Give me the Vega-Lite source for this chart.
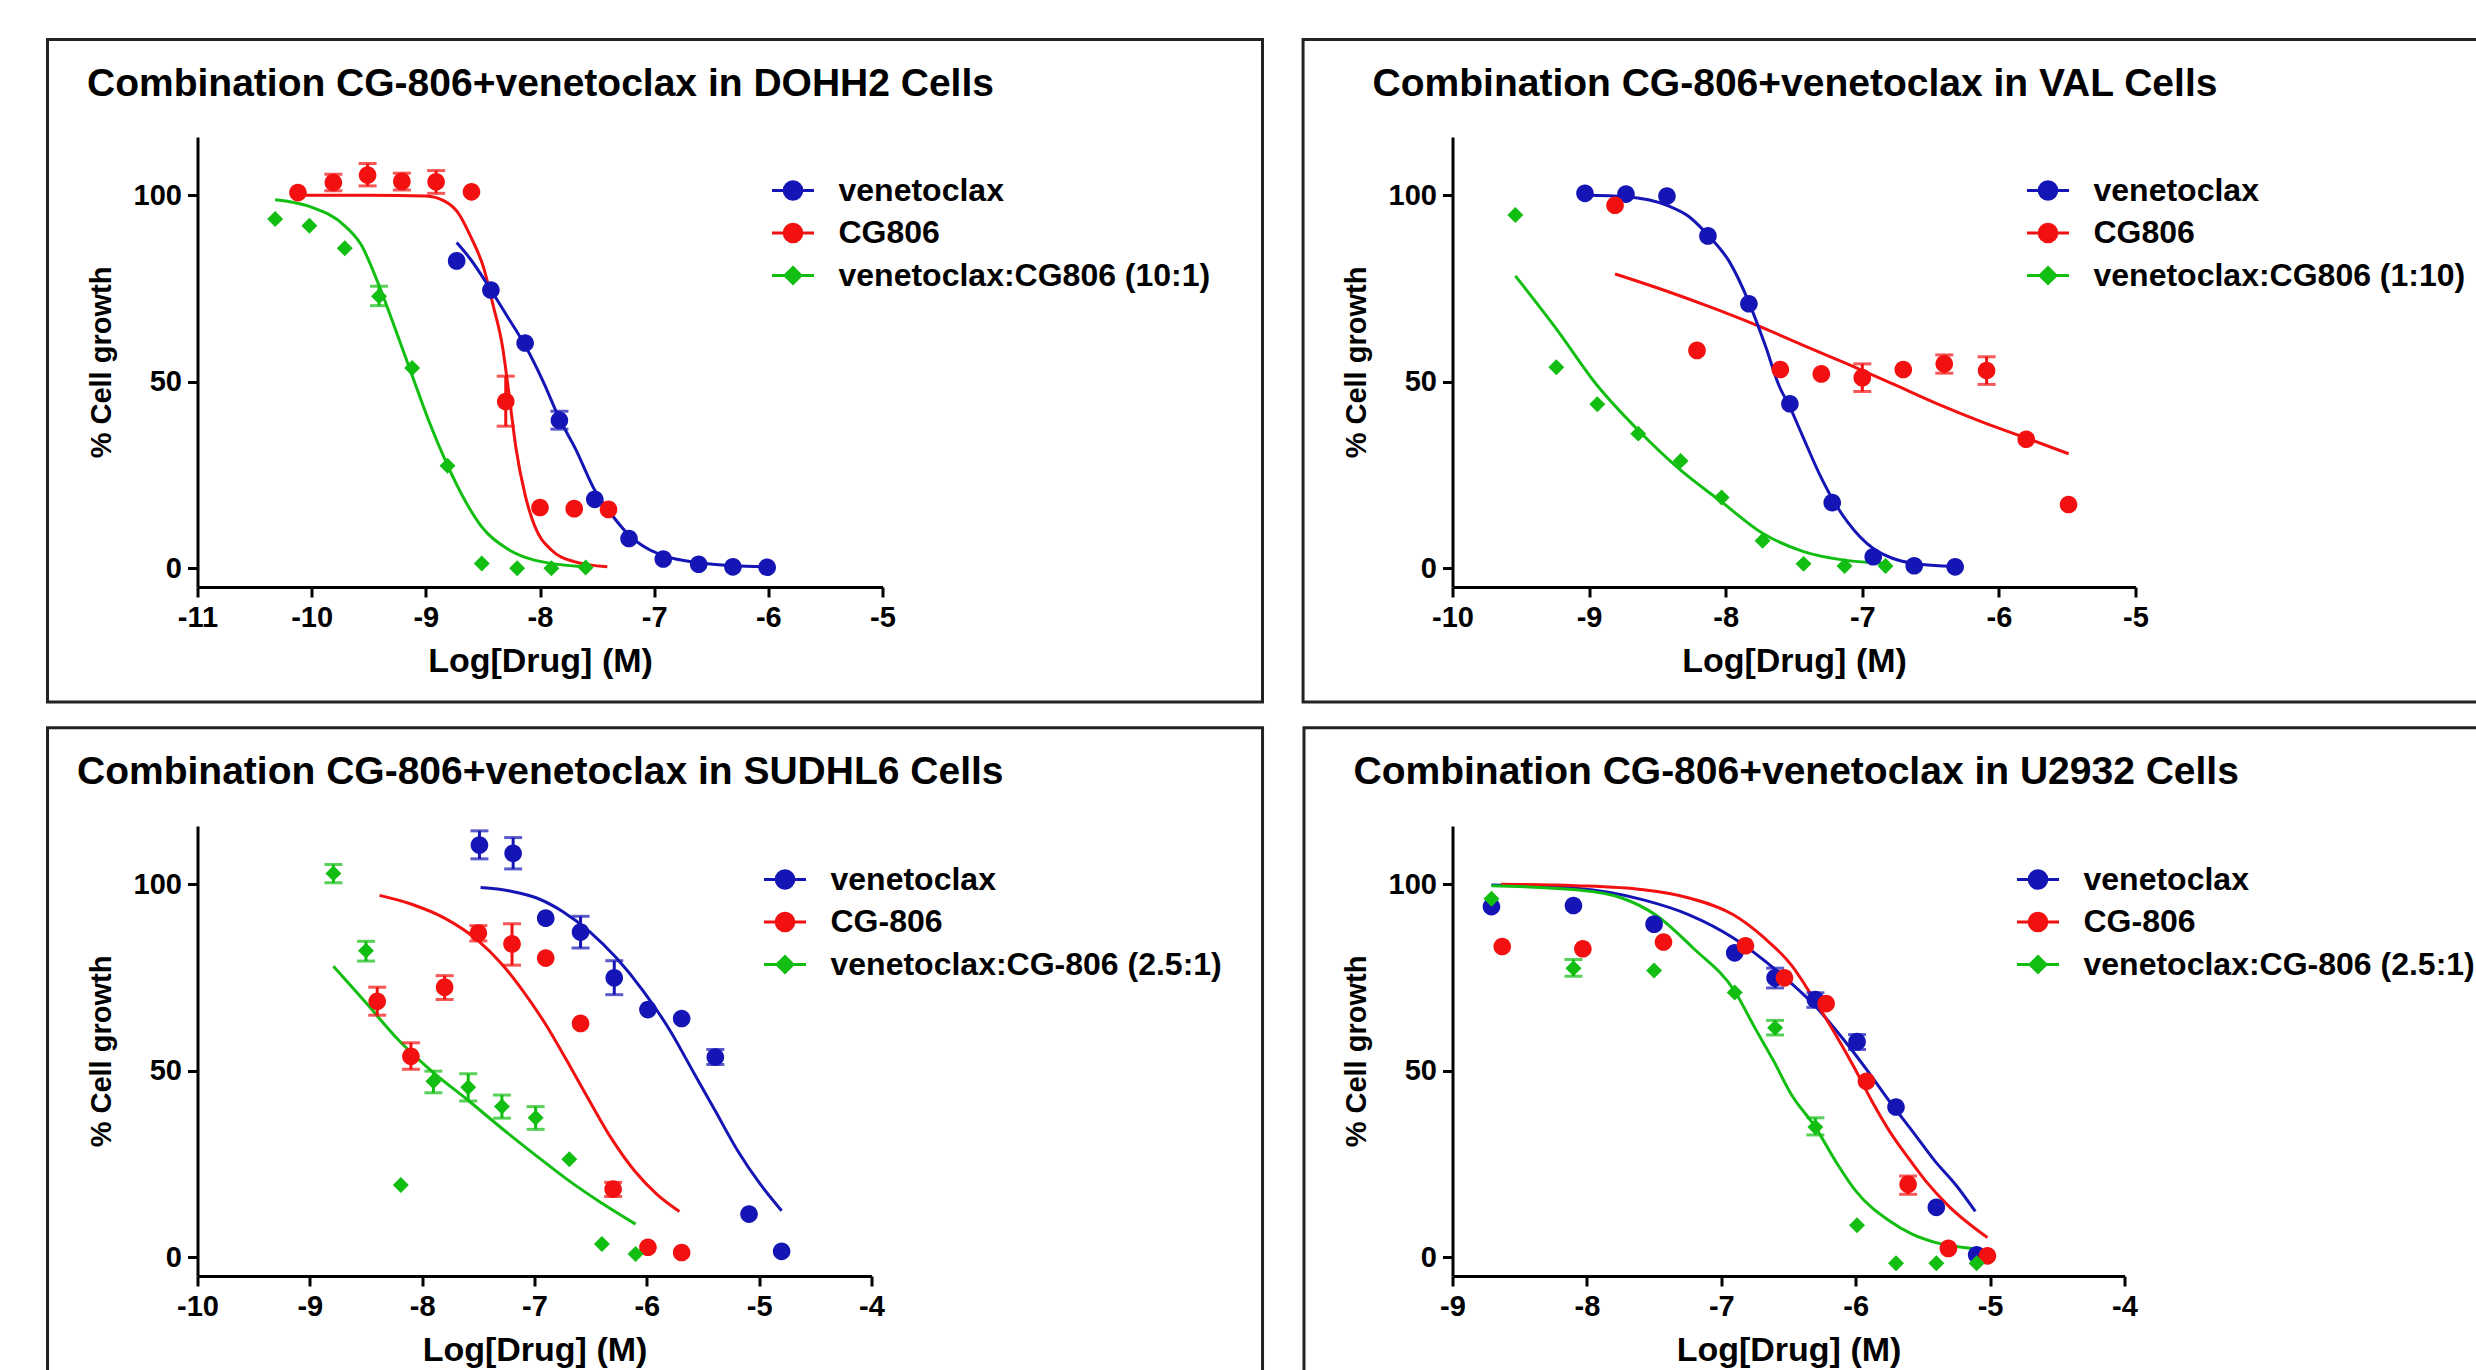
{
  "$schema": "https://vega.github.io/schema/vega-lite/v6.json",
  "background": "white",
  "padding": {"left": 45.5, "top": 38, "right": 0, "bottom": 0},
  "config": {
    "font": "Liberation Sans",
    "view": {"stroke": null},
    "axis": {"domainColor": "#000", "domainWidth": 3, "tickColor": "#000", "tickWidth": 3, "tickSize": 10, "labelFont": "Liberation Sans", "labelFontSize": 29, "labelFontWeight": "bold", "labelColor": "#000", "titleFont": "Liberation Sans", "titleFontWeight": "bold", "titleColor": "#000", "grid": false, "labelPadding": 6, "titlePadding": 12, "labelOverlap": false},
    "axisX": {"titleFontSize": 34, "labelFlush": false},
    "axisY": {"titleFontSize": 29, "titlePadding": 17},
    "title": {"font": "Liberation Sans", "fontSize": 39, "fontWeight": "bold", "color": "#000", "anchor": "start", "baseline": "alphabetic", "offset": -66},
    "legend": {"orient": "none", "symbolSize": 1764, "symbolStrokeWidth": 3, "labelFontSize": 32, "labelFont": "Liberation Sans", "labelFontWeight": "bold", "labelColor": "#000", "labelOffset": 23, "rowPadding": 3.5, "padding": 0, "labelLimit": 800}
  },
  "resolve": {
    "scale": {"color": "independent", "fill": "independent", "stroke": "independent", "shape": "independent"},
    "legend": {"color": "independent", "fill": "independent", "stroke": "independent", "shape": "independent"}
  },
  "datasets": {
    "p1pts": [
      {"s":"venetoclax","x":-8.73,"y":82.4},{"s":"venetoclax","x":-8.43,"y":74.6},{"s":"venetoclax","x":-8.13,"y":60.4},{"s":"venetoclax","x":-7.83,"y":39.7,"lo":37.3,"hi":42.1},{"s":"venetoclax","x":-7.52,"y":18.5},{"s":"venetoclax","x":-7.22,"y":8.0},{"s":"venetoclax","x":-6.92,"y":2.5},{"s":"venetoclax","x":-6.61,"y":1.1},{"s":"venetoclax","x":-6.31,"y":0.4},{"s":"venetoclax","x":-6.01,"y":0.3},
      {"s":"CG806","x":-10.12,"y":100.7},{"s":"CG806","x":-9.81,"y":103.4,"lo":101.2,"hi":105.6},{"s":"CG806","x":-9.51,"y":105.4,"lo":102.5,"hi":108.5},{"s":"CG806","x":-9.21,"y":103.7,"lo":101.4,"hi":105.9},{"s":"CG806","x":-8.91,"y":103.6,"lo":100.5,"hi":106.6},{"s":"CG806","x":-8.60,"y":100.9},{"s":"CG806","x":-8.30,"y":44.7,"lo":38.1,"hi":51.5},{"s":"CG806","x":-8.00,"y":16.3},{"s":"CG806","x":-7.70,"y":16.0},{"s":"CG806","x":-7.40,"y":15.8},
      {"s":"venetoclax:CG806 (10:1)","x":-10.32,"y":93.6},{"s":"venetoclax:CG806 (10:1)","x":-10.02,"y":91.8},{"s":"venetoclax:CG806 (10:1)","x":-9.71,"y":85.8},{"s":"venetoclax:CG806 (10:1)","x":-9.41,"y":72.9,"lo":70.4,"hi":75.6},{"s":"venetoclax:CG806 (10:1)","x":-9.12,"y":53.7},{"s":"venetoclax:CG806 (10:1)","x":-8.81,"y":27.5},{"s":"venetoclax:CG806 (10:1)","x":-8.51,"y":1.3},{"s":"venetoclax:CG806 (10:1)","x":-8.20,"y":0.0},{"s":"venetoclax:CG806 (10:1)","x":-7.90,"y":0.0},{"s":"venetoclax:CG806 (10:1)","x":-7.60,"y":0.2}
    ],
    "p1fit": [
      {"s":"CG806","x":-10.12,"y":100},{"s":"CG806","x":-9.5,"y":100},{"s":"CG806","x":-9.0,"y":99.8},{"s":"CG806","x":-8.84,"y":98.5},{"s":"CG806","x":-8.72,"y":95.4},{"s":"CG806","x":-8.61,"y":89.1},{"s":"CG806","x":-8.49,"y":80.2},{"s":"CG806","x":-8.41,"y":70.4},{"s":"CG806","x":-8.33,"y":59.7},{"s":"CG806","x":-8.27,"y":46.3},{"s":"CG806","x":-8.21,"y":32.1},{"s":"CG806","x":-8.13,"y":19.6},{"s":"CG806","x":-8.05,"y":11.6},{"s":"CG806","x":-7.90,"y":4.9},{"s":"CG806","x":-7.70,"y":1.8},{"s":"CG806","x":-7.41,"y":0.4},
      {"s":"venetoclax","x":-8.73,"y":87.3},{"s":"venetoclax","x":-8.61,"y":82.9},{"s":"venetoclax","x":-8.43,"y":74.6},{"s":"venetoclax","x":-8.29,"y":67.7},{"s":"venetoclax","x":-8.13,"y":59.7},{"s":"venetoclax","x":-7.97,"y":49.9},{"s":"venetoclax","x":-7.83,"y":40.1},{"s":"venetoclax","x":-7.69,"y":32.1},{"s":"venetoclax","x":-7.52,"y":20.9},{"s":"venetoclax","x":-7.37,"y":14.3},{"s":"venetoclax","x":-7.22,"y":8.9},{"s":"venetoclax","x":-7.06,"y":5.3},{"s":"venetoclax","x":-6.92,"y":3.4},{"s":"venetoclax","x":-6.61,"y":1.5},{"s":"venetoclax","x":-6.31,"y":0.7},{"s":"venetoclax","x":-6.0,"y":0.4},
      {"s":"venetoclax:CG806 (10:1)","x":-10.32,"y":98.8},{"s":"venetoclax:CG806 (10:1)","x":-10.02,"y":97.0},{"s":"venetoclax:CG806 (10:1)","x":-9.71,"y":91.8},{"s":"venetoclax:CG806 (10:1)","x":-9.57,"y":86.9},{"s":"venetoclax:CG806 (10:1)","x":-9.41,"y":75.8},{"s":"venetoclax:CG806 (10:1)","x":-9.29,"y":66.0},{"s":"venetoclax:CG806 (10:1)","x":-9.12,"y":51.7},{"s":"venetoclax:CG806 (10:1)","x":-8.97,"y":39.2},{"s":"venetoclax:CG806 (10:1)","x":-8.81,"y":27.6},{"s":"venetoclax:CG806 (10:1)","x":-8.65,"y":17.8},{"s":"venetoclax:CG806 (10:1)","x":-8.51,"y":11.1},{"s":"venetoclax:CG806 (10:1)","x":-8.29,"y":5.3},{"s":"venetoclax:CG806 (10:1)","x":-8.05,"y":2.2},{"s":"venetoclax:CG806 (10:1)","x":-7.60,"y":0.4}
    ],
    "p2pts": [
      {"s":"venetoclax","x":-9.03,"y":100.5},{"s":"venetoclax","x":-8.73,"y":100.3},{"s":"venetoclax","x":-8.43,"y":99.8},{"s":"venetoclax","x":-8.13,"y":89.1},{"s":"venetoclax","x":-7.83,"y":70.9},{"s":"venetoclax","x":-7.53,"y":44.1},{"s":"venetoclax","x":-7.22,"y":17.6},{"s":"venetoclax","x":-6.92,"y":3.1},{"s":"venetoclax","x":-6.62,"y":0.7},{"s":"venetoclax","x":-6.32,"y":0.4},
      {"s":"CG806","x":-8.81,"y":97.3},{"s":"CG806","x":-8.21,"y":58.4},{"s":"CG806","x":-7.60,"y":53.3},{"s":"CG806","x":-7.30,"y":52.1},{"s":"CG806","x":-7.00,"y":51.1,"lo":47.4,"hi":54.8},{"s":"CG806","x":-6.70,"y":53.3},{"s":"CG806","x":-6.40,"y":54.8,"lo":52.3,"hi":57.2},{"s":"CG806","x":-6.09,"y":53.0,"lo":49.3,"hi":56.7},{"s":"CG806","x":-5.80,"y":34.6},{"s":"CG806","x":-5.49,"y":17.1},
      {"s":"venetoclax:CG806 (1:10)","x":-9.54,"y":94.7},{"s":"venetoclax:CG806 (1:10)","x":-9.24,"y":53.9},{"s":"venetoclax:CG806 (1:10)","x":-8.94,"y":44.0},{"s":"venetoclax:CG806 (1:10)","x":-8.64,"y":36.1},{"s":"venetoclax:CG806 (1:10)","x":-8.33,"y":28.8},{"s":"venetoclax:CG806 (1:10)","x":-8.03,"y":19.0},{"s":"venetoclax:CG806 (1:10)","x":-7.73,"y":7.4},{"s":"venetoclax:CG806 (1:10)","x":-7.43,"y":1.2},{"s":"venetoclax:CG806 (1:10)","x":-7.13,"y":0.6},{"s":"venetoclax:CG806 (1:10)","x":-6.83,"y":0.6}
    ],
    "p2fit": [
      {"s":"CG806","x":-8.81,"y":78.9},{"s":"CG806","x":-8.44,"y":74.4},{"s":"CG806","x":-8.11,"y":70.0},{"s":"CG806","x":-7.77,"y":65.1},{"s":"CG806","x":-7.44,"y":59.9},{"s":"CG806","x":-7.11,"y":54.8},{"s":"CG806","x":-6.78,"y":49.5},{"s":"CG806","x":-6.45,"y":44.1},{"s":"CG806","x":-6.12,"y":39.2},{"s":"CG806","x":-5.79,"y":34.8},{"s":"CG806","x":-5.49,"y":30.7},
      {"s":"venetoclax","x":-9.03,"y":100},{"s":"venetoclax","x":-8.73,"y":99.6},{"s":"venetoclax","x":-8.43,"y":97.3},{"s":"venetoclax","x":-8.27,"y":94.3},{"s":"venetoclax","x":-8.13,"y":89.3},{"s":"venetoclax","x":-7.97,"y":82.0},{"s":"venetoclax","x":-7.83,"y":71.3},{"s":"venetoclax","x":-7.71,"y":59.7},{"s":"venetoclax","x":-7.61,"y":49.0},{"s":"venetoclax","x":-7.53,"y":43.2},{"s":"venetoclax","x":-7.44,"y":35.7},{"s":"venetoclax","x":-7.31,"y":25.0},{"s":"venetoclax","x":-7.22,"y":18.7},{"s":"venetoclax","x":-7.11,"y":12.5},{"s":"venetoclax","x":-6.92,"y":5.3},{"s":"venetoclax","x":-6.78,"y":2.7},{"s":"venetoclax","x":-6.62,"y":1.3},{"s":"venetoclax","x":-6.32,"y":0.5},
      {"s":"venetoclax:CG806 (1:10)","x":-9.54,"y":78.4},{"s":"venetoclax:CG806 (1:10)","x":-9.24,"y":64.2},{"s":"venetoclax:CG806 (1:10)","x":-8.94,"y":49.0},{"s":"venetoclax:CG806 (1:10)","x":-8.64,"y":37.0},{"s":"venetoclax:CG806 (1:10)","x":-8.33,"y":26.3},{"s":"venetoclax:CG806 (1:10)","x":-8.03,"y":17.8},{"s":"venetoclax:CG806 (1:10)","x":-7.73,"y":9.4},{"s":"venetoclax:CG806 (1:10)","x":-7.43,"y":4.5},{"s":"venetoclax:CG806 (1:10)","x":-7.13,"y":2.2},{"s":"venetoclax:CG806 (1:10)","x":-6.83,"y":1.3}
    ],
    "p3pts": [
      {"s":"venetoclax","x":-7.49,"y":110.5,"lo":106.8,"hi":114.3},{"s":"venetoclax","x":-7.19,"y":108.3,"lo":104.1,"hi":112.5},{"s":"venetoclax","x":-6.90,"y":90.9},{"s":"venetoclax","x":-6.59,"y":87.2,"lo":82.9,"hi":91.4},{"s":"venetoclax","x":-6.29,"y":74.9,"lo":70.4,"hi":79.5},{"s":"venetoclax","x":-5.99,"y":66.4},{"s":"venetoclax","x":-5.69,"y":64.0},{"s":"venetoclax","x":-5.39,"y":53.7,"lo":51.7,"hi":55.7},{"s":"venetoclax","x":-5.09,"y":11.6},{"s":"venetoclax","x":-4.80,"y":1.6},
      {"s":"CG-806","x":-8.40,"y":68.6,"lo":64.9,"hi":72.4},{"s":"CG-806","x":-8.10,"y":53.9,"lo":50.4,"hi":57.5},{"s":"CG-806","x":-7.80,"y":72.4,"lo":69.1,"hi":75.5},{"s":"CG-806","x":-7.50,"y":86.9,"lo":84.8,"hi":88.9},{"s":"CG-806","x":-7.20,"y":84.0,"lo":78.3,"hi":89.4},{"s":"CG-806","x":-6.90,"y":80.2},{"s":"CG-806","x":-6.59,"y":62.7},{"s":"CG-806","x":-6.30,"y":18.3,"lo":16.3,"hi":20.1},{"s":"CG-806","x":-5.99,"y":2.7},{"s":"CG-806","x":-5.69,"y":1.3},
      {"s":"venetoclax:CG-806 (2.5:1)","x":-8.79,"y":102.9,"lo":100.4,"hi":105.3},{"s":"venetoclax:CG-806 (2.5:1)","x":-8.50,"y":82.2,"lo":79.4,"hi":84.7},{"s":"venetoclax:CG-806 (2.5:1)","x":-8.19,"y":19.4},{"s":"venetoclax:CG-806 (2.5:1)","x":-7.90,"y":47.2,"lo":44.1,"hi":49.9},{"s":"venetoclax:CG-806 (2.5:1)","x":-7.59,"y":45.6,"lo":41.9,"hi":49.2},{"s":"venetoclax:CG-806 (2.5:1)","x":-7.29,"y":40.4,"lo":37.3,"hi":43.5},{"s":"venetoclax:CG-806 (2.5:1)","x":-6.99,"y":37.4,"lo":34.3,"hi":40.4},{"s":"venetoclax:CG-806 (2.5:1)","x":-6.69,"y":26.3},{"s":"venetoclax:CG-806 (2.5:1)","x":-6.40,"y":3.6},{"s":"venetoclax:CG-806 (2.5:1)","x":-6.10,"y":0.9}
    ],
    "p3fit": [
      {"s":"venetoclax","x":-7.48,"y":99.1},{"s":"venetoclax","x":-7.22,"y":98.2},{"s":"venetoclax","x":-6.98,"y":96.3},{"s":"venetoclax","x":-6.75,"y":92.7},{"s":"venetoclax","x":-6.51,"y":87.3},{"s":"venetoclax","x":-6.27,"y":80.2},{"s":"venetoclax","x":-6.03,"y":71.3},{"s":"venetoclax","x":-5.79,"y":60.6},{"s":"venetoclax","x":-5.59,"y":49.9},{"s":"venetoclax","x":-5.39,"y":39.2},{"s":"venetoclax","x":-5.19,"y":28.5},{"s":"venetoclax","x":-4.99,"y":19.6},{"s":"venetoclax","x":-4.80,"y":12.5},
      {"s":"CG-806","x":-8.38,"y":97.0},{"s":"CG-806","x":-8.10,"y":94.7},{"s":"CG-806","x":-7.80,"y":90.9},{"s":"CG-806","x":-7.50,"y":84.8},{"s":"CG-806","x":-7.30,"y":78.9},{"s":"CG-806","x":-7.10,"y":71.3},{"s":"CG-806","x":-6.90,"y":62.4},{"s":"CG-806","x":-6.71,"y":52.6},{"s":"CG-806","x":-6.51,"y":41.9},{"s":"CG-806","x":-6.31,"y":31.6},{"s":"CG-806","x":-6.11,"y":23.2},{"s":"CG-806","x":-5.91,"y":16.9},{"s":"CG-806","x":-5.71,"y":12.3},
      {"s":"venetoclax:CG-806 (2.5:1)","x":-8.79,"y":78.0},{"s":"venetoclax:CG-806 (2.5:1)","x":-8.50,"y":68.2},{"s":"venetoclax:CG-806 (2.5:1)","x":-8.20,"y":57.9},{"s":"venetoclax:CG-806 (2.5:1)","x":-7.90,"y":49.5},{"s":"venetoclax:CG-806 (2.5:1)","x":-7.60,"y":42.3},{"s":"venetoclax:CG-806 (2.5:1)","x":-7.30,"y":34.8},{"s":"venetoclax:CG-806 (2.5:1)","x":-7.00,"y":27.6},{"s":"venetoclax:CG-806 (2.5:1)","x":-6.71,"y":20.9},{"s":"venetoclax:CG-806 (2.5:1)","x":-6.41,"y":14.7},{"s":"venetoclax:CG-806 (2.5:1)","x":-6.10,"y":8.9}
    ],
    "p4pts": [
      {"s":"venetoclax","x":-8.71,"y":94.0},{"s":"venetoclax","x":-8.10,"y":94.3},{"s":"venetoclax","x":-7.50,"y":89.3},{"s":"venetoclax","x":-6.90,"y":81.6},{"s":"venetoclax","x":-6.60,"y":74.9,"lo":72.2,"hi":77.5},{"s":"venetoclax","x":-6.30,"y":69.1,"lo":67.0,"hi":70.9},{"s":"venetoclax","x":-5.99,"y":57.8,"lo":55.7,"hi":59.7},{"s":"venetoclax","x":-5.70,"y":40.3},{"s":"venetoclax","x":-5.40,"y":13.4},{"s":"venetoclax","x":-5.10,"y":0.7},
      {"s":"CG-806","x":-8.63,"y":83.3},{"s":"CG-806","x":-8.03,"y":82.7},{"s":"CG-806","x":-7.43,"y":84.5},{"s":"CG-806","x":-6.82,"y":83.5},{"s":"CG-806","x":-6.53,"y":74.9},{"s":"CG-806","x":-6.22,"y":68.0},{"s":"CG-806","x":-5.92,"y":47.2},{"s":"CG-806","x":-5.61,"y":19.6,"lo":16.9,"hi":21.8},{"s":"CG-806","x":-5.31,"y":2.4},{"s":"CG-806","x":-5.02,"y":0.4},
      {"s":"venetoclax:CG-806 (2.5:1)","x":-8.71,"y":96.1},{"s":"venetoclax:CG-806 (2.5:1)","x":-8.10,"y":77.5,"lo":75.3,"hi":79.8},{"s":"venetoclax:CG-806 (2.5:1)","x":-7.50,"y":76.9},{"s":"venetoclax:CG-806 (2.5:1)","x":-6.90,"y":71.0},{"s":"venetoclax:CG-806 (2.5:1)","x":-6.60,"y":61.5,"lo":59.6,"hi":63.5},{"s":"venetoclax:CG-806 (2.5:1)","x":-6.30,"y":34.9,"lo":32.8,"hi":37.4},{"s":"venetoclax:CG-806 (2.5:1)","x":-5.99,"y":8.6},{"s":"venetoclax:CG-806 (2.5:1)","x":-5.70,"y":-1.6},{"s":"venetoclax:CG-806 (2.5:1)","x":-5.40,"y":-1.6},{"s":"venetoclax:CG-806 (2.5:1)","x":-5.10,"y":-1.6}
    ],
    "p4fit": [
      {"s":"venetoclax","x":-8.71,"y":99.8},{"s":"venetoclax","x":-8.08,"y":98.9},{"s":"venetoclax","x":-7.58,"y":95.8},{"s":"venetoclax","x":-7.24,"y":91.8},{"s":"venetoclax","x":-6.91,"y":85.6},{"s":"venetoclax","x":-6.58,"y":76.6},{"s":"venetoclax","x":-6.30,"y":67.3},{"s":"venetoclax","x":-6.08,"y":57.9},{"s":"venetoclax","x":-5.91,"y":49.9},{"s":"venetoclax","x":-5.75,"y":41.9},{"s":"venetoclax","x":-5.58,"y":33.9},{"s":"venetoclax","x":-5.41,"y":25.8},{"s":"venetoclax","x":-5.25,"y":19.2},{"s":"venetoclax","x":-5.11,"y":12.3},
      {"s":"CG-806","x":-8.64,"y":100},{"s":"CG-806","x":-8.08,"y":99.6},{"s":"CG-806","x":-7.58,"y":98.5},{"s":"CG-806","x":-7.24,"y":96.3},{"s":"CG-806","x":-6.91,"y":91.8},{"s":"CG-806","x":-6.68,"y":85.6},{"s":"CG-806","x":-6.48,"y":78.4},{"s":"CG-806","x":-6.30,"y":68.6},{"s":"CG-806","x":-6.15,"y":59.7},{"s":"CG-806","x":-6.01,"y":50.8},{"s":"CG-806","x":-5.88,"y":41.9},{"s":"CG-806","x":-5.75,"y":33.9},{"s":"CG-806","x":-5.61,"y":26.7},{"s":"CG-806","x":-5.48,"y":20.5},{"s":"CG-806","x":-5.31,"y":13.8},{"s":"CG-806","x":-5.02,"y":5.3},
      {"s":"venetoclax:CG-806 (2.5:1)","x":-8.71,"y":99.6},{"s":"venetoclax:CG-806 (2.5:1)","x":-8.08,"y":98.5},{"s":"venetoclax:CG-806 (2.5:1)","x":-7.74,"y":96.3},{"s":"venetoclax:CG-806 (2.5:1)","x":-7.49,"y":91.8},{"s":"venetoclax:CG-806 (2.5:1)","x":-7.21,"y":82.9},{"s":"venetoclax:CG-806 (2.5:1)","x":-6.90,"y":71.3},{"s":"venetoclax:CG-806 (2.5:1)","x":-6.75,"y":61.5},{"s":"venetoclax:CG-806 (2.5:1)","x":-6.61,"y":52.6},{"s":"venetoclax:CG-806 (2.5:1)","x":-6.48,"y":43.7},{"s":"venetoclax:CG-806 (2.5:1)","x":-6.30,"y":34.9},{"s":"venetoclax:CG-806 (2.5:1)","x":-6.15,"y":25.8},{"s":"venetoclax:CG-806 (2.5:1)","x":-6.00,"y":17.8},{"s":"venetoclax:CG-806 (2.5:1)","x":-5.75,"y":9.8},{"s":"venetoclax:CG-806 (2.5:1)","x":-5.58,"y":6.2},{"s":"venetoclax:CG-806 (2.5:1)","x":-5.41,"y":4.0},{"s":"venetoclax:CG-806 (2.5:1)","x":-5.08,"y":2.2}
    ]
  },
  "columns": 2,
  "spacing": {"row": 239, "column": 570},
  "bounds": "flush",
  "concat": [
    {
      "width": 685, "height": 450,
      "title": {"text": "Combination CG-806+venetoclax in DOHH2 Cells", "dx": 41},
      "encoding": {
        "x": {"field": "x", "type": "quantitative", "scale": {"domain": [-11, -5], "nice": false, "zero": false}, "axis": {"values": [-11,-10,-9,-8,-7,-6,-5], "title": "Log[Drug] (M)", "labelExpr": "'' + datum.value"}},
        "y": {"field": "y", "type": "quantitative", "scale": {"domain": [-5, 115.6], "nice": false, "zero": false}, "axis": {"values": [0, 50, 100], "title": "% Cell growth"}}
      },
      "layer": [
        {"data": {"values": [{"x": -12.314, "xe": -1.6715, "y": 141.73, "ye": -35.82}]}, "mark": {"type": "rect", "fill": "transparent", "stroke": "#222", "strokeWidth": 3}, "encoding": {"x2": {"field": "xe"}, "y2": {"field": "ye"}}},
        {"data": {"name": "p1fit"}, "mark": {"type": "line", "strokeWidth": 3, "interpolate": "monotone"}, "encoding": {"color": {"field": "s", "type": "nominal", "scale": {"domain": ["venetoclax:CG806 (10:1)", "CG806", "venetoclax"], "range": ["#12BE12", "#F21010", "#1515B5"]}, "legend": null}}},
        {"data": {"name": "p1pts"}, "transform": [{"filter": "isValid(datum.lo)"}], "mark": {"type": "rule", "strokeWidth": 3}, "encoding": {"y": {"field": "lo", "type": "quantitative", "scale": {"domain": [-5, 115.6], "nice": false, "zero": false}, "title": "% Cell growth"}, "y2": {"field": "hi"}, "color": {"field": "s", "type": "nominal", "scale": {"domain": ["venetoclax:CG806 (10:1)", "CG806", "venetoclax"], "range": ["#12BE12", "#F21010", "#1515B5"]}, "legend": null}}},
        {"data": {"name": "p1pts"}, "transform": [{"filter": "isValid(datum.lo)"}], "mark": {"type": "tick", "orient": "horizontal", "size": 18, "thickness": 3}, "encoding": {"y": {"field": "lo", "type": "quantitative", "scale": {"domain": [-5, 115.6], "nice": false, "zero": false}, "title": "% Cell growth"}, "color": {"field": "s", "type": "nominal", "scale": {"domain": ["venetoclax:CG806 (10:1)", "CG806", "venetoclax"], "range": ["#12BE12", "#F21010", "#1515B5"]}, "legend": null}}},
        {"data": {"name": "p1pts"}, "transform": [{"filter": "isValid(datum.lo)"}], "mark": {"type": "tick", "orient": "horizontal", "size": 18, "thickness": 3}, "encoding": {"y": {"field": "hi", "type": "quantitative", "scale": {"domain": [-5, 115.6], "nice": false, "zero": false}, "title": "% Cell growth"}, "color": {"field": "s", "type": "nominal", "scale": {"domain": ["venetoclax:CG806 (10:1)", "CG806", "venetoclax"], "range": ["#12BE12", "#F21010", "#1515B5"]}, "legend": null}}},
        {"data": {"name": "p1pts"}, "mark": {"type": "point", "filled": true, "size": 1764, "strokeWidth": 0, "opacity": 1},
         "encoding": {
           "fill": {"field": "s", "type": "nominal", "scale": {"domain": ["venetoclax", "CG806", "venetoclax:CG806 (10:1)"], "range": ["#1515B5", "#F21010", "#12BE12"]}, "legend": {"title": null, "legendX": 573, "legendY": 31, "encode": {"symbols": {"strokeWidth": {"value": 3}}}}},
           "stroke": {"field": "s", "type": "nominal", "scale": {"domain": ["venetoclax", "CG806", "venetoclax:CG806 (10:1)"], "range": ["#1515B5", "#F21010", "#12BE12"]}, "legend": {"title": null, "legendX": 573, "legendY": 31, "encode": {"symbols": {"strokeWidth": {"value": 3}}}}},
           "shape": {"field": "s", "type": "nominal", "scale": {"domain": ["venetoclax", "CG806", "venetoclax:CG806 (10:1)"], "range": ["M-1,0H1M-0.42,0A0.42,0.42,0,1,1,0.42,0A0.42,0.42,0,1,1,-0.42,0Z", "M-1,0H1M-0.42,0A0.42,0.42,0,1,1,0.42,0A0.42,0.42,0,1,1,-0.42,0Z", "M-1,0H1M0,-0.38L0.38,0L0,0.38L-0.38,0Z"]}, "legend": {"title": null, "legendX": 573, "legendY": 31, "encode": {"symbols": {"strokeWidth": {"value": 3}}}}}
         }}
      ]
    },
    {
      "width": 683, "height": 450,
      "title": {"text": "Combination CG-806+venetoclax in VAL Cells", "dx": 71},
      "encoding": {
        "x": {"field": "x", "type": "quantitative", "scale": {"domain": [-10, -5], "nice": false, "zero": false}, "axis": {"values": [-10,-9,-8,-7,-6,-5], "title": "Log[Drug] (M)", "labelExpr": "'' + datum.value"}},
        "y": {"field": "y", "type": "quantitative", "scale": {"domain": [-5, 115.6], "nice": false, "zero": false}, "axis": {"values": [0, 50, 100], "title": "% Cell growth"}}
      },
      "layer": [
        {"data": {"values": [{"x": -11.094, "xe": -2.2, "y": 141.73, "ye": -35.82}]}, "mark": {"type": "rect", "fill": "transparent", "stroke": "#222", "strokeWidth": 3}, "encoding": {"x2": {"field": "xe"}, "y2": {"field": "ye"}}},
        {"data": {"name": "p2fit"}, "mark": {"type": "line", "strokeWidth": 3, "interpolate": "monotone"}, "encoding": {"color": {"field": "s", "type": "nominal", "scale": {"domain": ["venetoclax:CG806 (1:10)", "CG806", "venetoclax"], "range": ["#12BE12", "#F21010", "#1515B5"]}, "legend": null}}},
        {"data": {"name": "p2pts"}, "transform": [{"filter": "isValid(datum.lo)"}], "mark": {"type": "rule", "strokeWidth": 3}, "encoding": {"y": {"field": "lo", "type": "quantitative", "scale": {"domain": [-5, 115.6], "nice": false, "zero": false}, "title": "% Cell growth"}, "y2": {"field": "hi"}, "color": {"field": "s", "type": "nominal", "scale": {"domain": ["venetoclax:CG806 (1:10)", "CG806", "venetoclax"], "range": ["#12BE12", "#F21010", "#1515B5"]}, "legend": null}}},
        {"data": {"name": "p2pts"}, "transform": [{"filter": "isValid(datum.lo)"}], "mark": {"type": "tick", "orient": "horizontal", "size": 18, "thickness": 3}, "encoding": {"y": {"field": "lo", "type": "quantitative", "scale": {"domain": [-5, 115.6], "nice": false, "zero": false}, "title": "% Cell growth"}, "color": {"field": "s", "type": "nominal", "scale": {"domain": ["venetoclax:CG806 (1:10)", "CG806", "venetoclax"], "range": ["#12BE12", "#F21010", "#1515B5"]}, "legend": null}}},
        {"data": {"name": "p2pts"}, "transform": [{"filter": "isValid(datum.lo)"}], "mark": {"type": "tick", "orient": "horizontal", "size": 18, "thickness": 3}, "encoding": {"y": {"field": "hi", "type": "quantitative", "scale": {"domain": [-5, 115.6], "nice": false, "zero": false}, "title": "% Cell growth"}, "color": {"field": "s", "type": "nominal", "scale": {"domain": ["venetoclax:CG806 (1:10)", "CG806", "venetoclax"], "range": ["#12BE12", "#F21010", "#1515B5"]}, "legend": null}}},
        {"data": {"name": "p2pts"}, "mark": {"type": "point", "filled": true, "size": 1764, "strokeWidth": 0, "opacity": 1},
         "encoding": {
           "fill": {"field": "s", "type": "nominal", "scale": {"domain": ["venetoclax", "CG806", "venetoclax:CG806 (1:10)"], "range": ["#1515B5", "#F21010", "#12BE12"]}, "legend": {"title": null, "legendX": 573, "legendY": 31, "encode": {"symbols": {"strokeWidth": {"value": 3}}}}},
           "stroke": {"field": "s", "type": "nominal", "scale": {"domain": ["venetoclax", "CG806", "venetoclax:CG806 (1:10)"], "range": ["#1515B5", "#F21010", "#12BE12"]}, "legend": {"title": null, "legendX": 573, "legendY": 31, "encode": {"symbols": {"strokeWidth": {"value": 3}}}}},
           "shape": {"field": "s", "type": "nominal", "scale": {"domain": ["venetoclax", "CG806", "venetoclax:CG806 (1:10)"], "range": ["M-1,0H1M-0.42,0A0.42,0.42,0,1,1,0.42,0A0.42,0.42,0,1,1,-0.42,0Z", "M-1,0H1M-0.42,0A0.42,0.42,0,1,1,0.42,0A0.42,0.42,0,1,1,-0.42,0Z", "M-1,0H1M0,-0.38L0.38,0L0,0.38L-0.38,0Z"]}, "legend": {"title": null, "legendX": 573, "legendY": 31, "encode": {"symbols": {"strokeWidth": {"value": 3}}}}}
         }}
      ]
    },
    {
      "width": 674, "height": 450,
      "title": {"text": "Combination CG-806+venetoclax in SUDHL6 Cells", "dx": 31},
      "encoding": {
        "x": {"field": "x", "type": "quantitative", "scale": {"domain": [-10, -4], "nice": false, "zero": false}, "axis": {"values": [-10,-9,-8,-7,-6,-5,-4], "title": "Log[Drug] (M)", "labelExpr": "'' + datum.value"}},
        "y": {"field": "y", "type": "quantitative", "scale": {"domain": [-5, 115.6], "nice": false, "zero": false}, "axis": {"values": [0, 50, 100], "title": "% Cell growth"}}
      },
      "layer": [
        {"data": {"values": [{"x": -11.335, "xe": -0.519, "y": 141.945, "ye": -35.6}]}, "mark": {"type": "rect", "fill": "transparent", "stroke": "#222", "strokeWidth": 3}, "encoding": {"x2": {"field": "xe"}, "y2": {"field": "ye"}}},
        {"data": {"name": "p3fit"}, "mark": {"type": "line", "strokeWidth": 3, "interpolate": "monotone"}, "encoding": {"color": {"field": "s", "type": "nominal", "scale": {"domain": ["venetoclax:CG-806 (2.5:1)", "CG-806", "venetoclax"], "range": ["#12BE12", "#F21010", "#1515B5"]}, "legend": null}}},
        {"data": {"name": "p3pts"}, "transform": [{"filter": "isValid(datum.lo)"}], "mark": {"type": "rule", "strokeWidth": 3}, "encoding": {"y": {"field": "lo", "type": "quantitative", "scale": {"domain": [-5, 115.6], "nice": false, "zero": false}, "title": "% Cell growth"}, "y2": {"field": "hi"}, "color": {"field": "s", "type": "nominal", "scale": {"domain": ["venetoclax:CG-806 (2.5:1)", "CG-806", "venetoclax"], "range": ["#12BE12", "#F21010", "#1515B5"]}, "legend": null}}},
        {"data": {"name": "p3pts"}, "transform": [{"filter": "isValid(datum.lo)"}], "mark": {"type": "tick", "orient": "horizontal", "size": 18, "thickness": 3}, "encoding": {"y": {"field": "lo", "type": "quantitative", "scale": {"domain": [-5, 115.6], "nice": false, "zero": false}, "title": "% Cell growth"}, "color": {"field": "s", "type": "nominal", "scale": {"domain": ["venetoclax:CG-806 (2.5:1)", "CG-806", "venetoclax"], "range": ["#12BE12", "#F21010", "#1515B5"]}, "legend": null}}},
        {"data": {"name": "p3pts"}, "transform": [{"filter": "isValid(datum.lo)"}], "mark": {"type": "tick", "orient": "horizontal", "size": 18, "thickness": 3}, "encoding": {"y": {"field": "hi", "type": "quantitative", "scale": {"domain": [-5, 115.6], "nice": false, "zero": false}, "title": "% Cell growth"}, "color": {"field": "s", "type": "nominal", "scale": {"domain": ["venetoclax:CG-806 (2.5:1)", "CG-806", "venetoclax"], "range": ["#12BE12", "#F21010", "#1515B5"]}, "legend": null}}},
        {"data": {"name": "p3pts"}, "mark": {"type": "point", "filled": true, "size": 1764, "strokeWidth": 0, "opacity": 1},
         "encoding": {
           "fill": {"field": "s", "type": "nominal", "scale": {"domain": ["venetoclax", "CG-806", "venetoclax:CG-806 (2.5:1)"], "range": ["#1515B5", "#F21010", "#12BE12"]}, "legend": {"title": null, "legendX": 565, "legendY": 31, "encode": {"symbols": {"strokeWidth": {"value": 3}}}}},
           "stroke": {"field": "s", "type": "nominal", "scale": {"domain": ["venetoclax", "CG-806", "venetoclax:CG-806 (2.5:1)"], "range": ["#1515B5", "#F21010", "#12BE12"]}, "legend": {"title": null, "legendX": 565, "legendY": 31, "encode": {"symbols": {"strokeWidth": {"value": 3}}}}},
           "shape": {"field": "s", "type": "nominal", "scale": {"domain": ["venetoclax", "CG-806", "venetoclax:CG-806 (2.5:1)"], "range": ["M-1,0H1M-0.42,0A0.42,0.42,0,1,1,0.42,0A0.42,0.42,0,1,1,-0.42,0Z", "M-1,0H1M-0.42,0A0.42,0.42,0,1,1,0.42,0A0.42,0.42,0,1,1,-0.42,0Z", "M-1,0H1M0,-0.38L0.38,0L0,0.38L-0.38,0Z"]}, "legend": {"title": null, "legendX": 565, "legendY": 31, "encode": {"symbols": {"strokeWidth": {"value": 3}}}}}
         }}
      ]
    },
    {
      "width": 672, "height": 450,
      "title": {"text": "Combination CG-806+venetoclax in U2932 Cells", "dx": 51},
      "encoding": {
        "x": {"field": "x", "type": "quantitative", "scale": {"domain": [-9, -4], "nice": false, "zero": false}, "axis": {"values": [-9,-8,-7,-6,-5,-4], "title": "Log[Drug] (M)", "labelExpr": "'' + datum.value"}},
        "y": {"field": "y", "type": "quantitative", "scale": {"domain": [-5, 115.6], "nice": false, "zero": false}, "axis": {"values": [0, 50, 100], "title": "% Cell growth"}}
      },
      "layer": [
        {"data": {"values": [{"x": -10.105, "xe": -1.065, "y": 141.945, "ye": -35.6}]}, "mark": {"type": "rect", "fill": "transparent", "stroke": "#222", "strokeWidth": 3}, "encoding": {"x2": {"field": "xe"}, "y2": {"field": "ye"}}},
        {"data": {"name": "p4fit"}, "mark": {"type": "line", "strokeWidth": 3, "interpolate": "monotone"}, "encoding": {"color": {"field": "s", "type": "nominal", "scale": {"domain": ["venetoclax:CG-806 (2.5:1)", "CG-806", "venetoclax"], "range": ["#12BE12", "#F21010", "#1515B5"]}, "legend": null}}},
        {"data": {"name": "p4pts"}, "transform": [{"filter": "isValid(datum.lo)"}], "mark": {"type": "rule", "strokeWidth": 3}, "encoding": {"y": {"field": "lo", "type": "quantitative", "scale": {"domain": [-5, 115.6], "nice": false, "zero": false}, "title": "% Cell growth"}, "y2": {"field": "hi"}, "color": {"field": "s", "type": "nominal", "scale": {"domain": ["venetoclax:CG-806 (2.5:1)", "CG-806", "venetoclax"], "range": ["#12BE12", "#F21010", "#1515B5"]}, "legend": null}}},
        {"data": {"name": "p4pts"}, "transform": [{"filter": "isValid(datum.lo)"}], "mark": {"type": "tick", "orient": "horizontal", "size": 18, "thickness": 3}, "encoding": {"y": {"field": "lo", "type": "quantitative", "scale": {"domain": [-5, 115.6], "nice": false, "zero": false}, "title": "% Cell growth"}, "color": {"field": "s", "type": "nominal", "scale": {"domain": ["venetoclax:CG-806 (2.5:1)", "CG-806", "venetoclax"], "range": ["#12BE12", "#F21010", "#1515B5"]}, "legend": null}}},
        {"data": {"name": "p4pts"}, "transform": [{"filter": "isValid(datum.lo)"}], "mark": {"type": "tick", "orient": "horizontal", "size": 18, "thickness": 3}, "encoding": {"y": {"field": "hi", "type": "quantitative", "scale": {"domain": [-5, 115.6], "nice": false, "zero": false}, "title": "% Cell growth"}, "color": {"field": "s", "type": "nominal", "scale": {"domain": ["venetoclax:CG-806 (2.5:1)", "CG-806", "venetoclax"], "range": ["#12BE12", "#F21010", "#1515B5"]}, "legend": null}}},
        {"data": {"name": "p4pts"}, "mark": {"type": "point", "filled": true, "size": 1764, "strokeWidth": 0, "opacity": 1},
         "encoding": {
           "fill": {"field": "s", "type": "nominal", "scale": {"domain": ["venetoclax", "CG-806", "venetoclax:CG-806 (2.5:1)"], "range": ["#1515B5", "#F21010", "#12BE12"]}, "legend": {"title": null, "legendX": 563, "legendY": 31, "encode": {"symbols": {"strokeWidth": {"value": 3}}}}},
           "stroke": {"field": "s", "type": "nominal", "scale": {"domain": ["venetoclax", "CG-806", "venetoclax:CG-806 (2.5:1)"], "range": ["#1515B5", "#F21010", "#12BE12"]}, "legend": {"title": null, "legendX": 563, "legendY": 31, "encode": {"symbols": {"strokeWidth": {"value": 3}}}}},
           "shape": {"field": "s", "type": "nominal", "scale": {"domain": ["venetoclax", "CG-806", "venetoclax:CG-806 (2.5:1)"], "range": ["M-1,0H1M-0.42,0A0.42,0.42,0,1,1,0.42,0A0.42,0.42,0,1,1,-0.42,0Z", "M-1,0H1M-0.42,0A0.42,0.42,0,1,1,0.42,0A0.42,0.42,0,1,1,-0.42,0Z", "M-1,0H1M0,-0.38L0.38,0L0,0.38L-0.38,0Z"]}, "legend": {"title": null, "legendX": 563, "legendY": 31, "encode": {"symbols": {"strokeWidth": {"value": 3}}}}}
         }}
      ]
    }
  ]
}
